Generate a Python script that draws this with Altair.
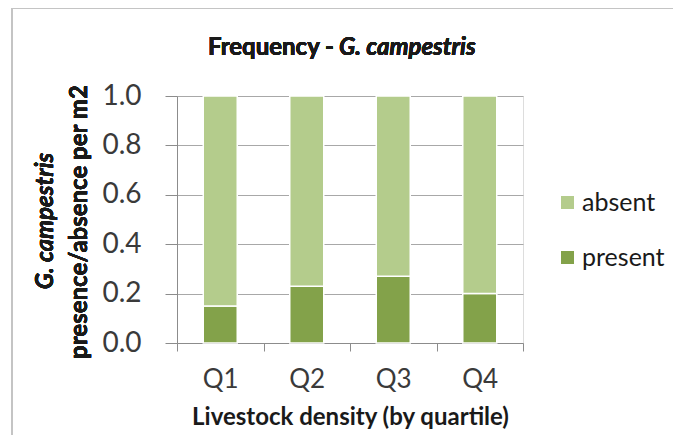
import altair as alt
import pandas as pd

quartiles = ["Q1", "Q2", "Q3", "Q4"]
present = [0.15, 0.23, 0.27, 0.20]
absent = [0.85, 0.77, 0.73, 0.80]
series = ["absent", "present"]
colors = ["#b4cc8c", "#83a24a"]
y_ticks = [0.0, 0.2, 0.4, 0.6, 0.8, 1.0]

rows = []
for q, p, a in zip(quartiles, present, absent):
    rows.append({"quartile": q, "status": "present", "value": p, "ord": 0})
    rows.append({"quartile": q, "status": "absent", "value": a, "ord": 1})
df = pd.DataFrame(rows)

FONT = "Lato"
W, H = 346, 247

bars = alt.Chart(df).mark_bar(size=34, stroke="white", strokeWidth=1.5).encode(
    x=alt.X("quartile:N", sort=quartiles,
            scale=alt.Scale(paddingInner=0, paddingOuter=0),
            axis=alt.Axis(title="Livestock density (by quartile)", labelAngle=0,
                          labelFontSize=26, labelColor="#3a3a3a", labelFont=FONT,
                          labelPadding=15, tickBand="extent", tickSize=8,
                          tickColor="#8c8c8c", domainColor="#8c8c8c",
                          titleFont=FONT, titleFontSize=24, titleFontWeight="bold",
                          titleColor="#1a1a1a", titlePadding=13)),
    y=alt.Y("value:Q", stack="zero", scale=alt.Scale(domain=[0, 1]),
            axis=alt.Axis(title=None, values=y_ticks, format=".1f",
                          labelFontSize=28, labelColor="#3a3a3a", labelFont=FONT,
                          labelPadding=24, tickSize=12, tickColor="#8c8c8c",
                          domainColor="#8c8c8c", gridColor="#a8a8a8", grid=True)),
    color=alt.Color("status:N", scale=alt.Scale(domain=series, range=colors),
                    legend=alt.Legend(title=None, orient="none", legendX=378, legendY=94,
                                      symbolType="square", symbolSize=170,
                                      symbolStrokeWidth=0, labelFontSize=25,
                                      labelFont=FONT, labelColor="#1a1a1a",
                                      rowPadding=29, labelOffset=2)),
    order=alt.Order("ord:Q", sort="ascending"),
)

border = alt.Chart(df).mark_rect(fill=None, stroke="#c4c4c4", strokeWidth=2).encode(
    x=alt.value(-165), x2=alt.value(501), y=alt.value(-88), y2=alt.value(380)
)

t1 = alt.Chart(df).mark_text(text="Frequency -", align="right", baseline="middle",
                             font=FONT, fontSize=24, fontWeight="bold", color="#1a1a1a").encode(
    x=alt.value(157), y=alt.value(-48))
t2 = alt.Chart(df).mark_text(text="G. campestris", align="left", baseline="middle",
                             font=FONT, fontSize=24, fontWeight="bold", fontStyle="italic",
                             color="#1a1a1a").encode(
    x=alt.value(162), y=alt.value(-48))

yt1 = alt.Chart(df).mark_text(text="G. campestris", align="center", baseline="middle",
                              angle=270, font=FONT, fontSize=24, fontWeight="bold",
                              fontStyle="italic", color="#1a1a1a").encode(
    x=alt.value(-131), y=alt.value(125))
yt2 = alt.Chart(df).mark_text(text="presence/absence per m2", align="center", baseline="middle",
                              angle=270, font=FONT, fontSize=24, fontWeight="bold",
                              color="#1a1a1a").encode(
    x=alt.value(-97), y=alt.value(126))

chart = alt.layer(border, bars, t1, t2, yt1, yt2).properties(
    width=W, height=H,
    autosize=alt.AutoSizeParams(type="none"),
    padding={"left": 169, "top": 88, "right": 150, "bottom": 92},
).configure_view(stroke=None).configure(background="white")

chart.save("out.html", embed_options={"renderer": "svg", "actions": False})
